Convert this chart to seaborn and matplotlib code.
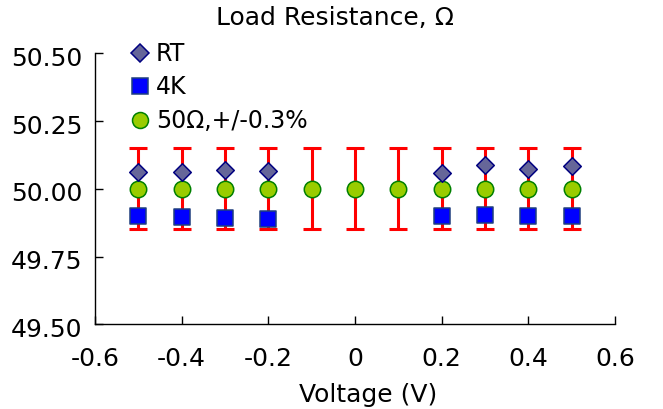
import matplotlib
matplotlib.use("Agg")
import matplotlib.pyplot as plt
import matplotlib.transforms as mtransforms
from matplotlib.lines import Line2D
import seaborn as sns
import pandas as pd

# Measured load resistance vs. bias voltage
voltage_nominal = [-0.5, -0.4, -0.3, -0.2, -0.1, 0.0, 0.1, 0.2, 0.3, 0.4, 0.5]
nominal_ohm = [50.0, 50.0, 50.0, 50.0, 50.0, 50.0, 50.0, 50.0, 50.0, 50.0, 50.0]
tolerance_ohm = 0.15  # +/-0.3 % of 50 ohm

voltage_meas = [-0.5, -0.4, -0.3, -0.2, 0.2, 0.3, 0.4, 0.5]
rt_ohm = [50.063, 50.063, 50.069, 50.065, 50.059, 50.087, 50.074, 50.083]
k4_ohm = [49.899, 49.897, 49.893, 49.887, 49.899, 49.903, 49.899, 49.899]

x_ticks = [-0.6, -0.4, -0.2, 0.0, 0.2, 0.4, 0.6]
x_tick_labels = ["-0.6", "-0.4", "-0.2", "0", "0.2", "0.4", "0.6"]
y_ticks = [49.50, 49.75, 50.00, 50.25, 50.50]

sns.set_theme(style="ticks")
plt.rcParams["font.family"] = ["DejaVu Sans"]
plt.rcParams["text.color"] = "black"

W, H = 663, 409
fig = plt.figure(figsize=(W / 100, H / 100), dpi=100)
ax = fig.add_axes([95 / W, 1 - 324.3 / H, (615 - 95) / W, (324.3 - 53.3) / H])

nom_df = pd.DataFrame({"V": voltage_nominal, "R": nominal_ohm})
meas_df = pd.DataFrame({"V": voltage_meas, "RT": rt_ohm, "4K": k4_ohm})

# tolerance band as red error bars
ax.errorbar(nom_df["V"], nom_df["R"], yerr=tolerance_ohm, fmt="none",
            ecolor="#FF0000", elinewidth=2.2, capsize=6.2, capthick=2.2, zorder=1)

sns.scatterplot(data=nom_df, x="V", y="R", marker="o", s=140, color="#99CC00",
                edgecolor="#008000", linewidth=1.1, ax=ax, zorder=3)
sns.scatterplot(data=meas_df, x="V", y="RT", marker="D", s=80, color="#666699",
                edgecolor="#000080", linewidth=1.1, ax=ax, zorder=4)
sns.scatterplot(data=meas_df, x="V", y="4K", marker="s", s=145, color="#0000FF",
                edgecolor="#1F3F7F", linewidth=1.1, ax=ax, zorder=4)

ax.set_xlim(-0.6, 0.6)
ax.set_ylim(49.5, 50.5)
ax.set_xticks(x_ticks)
ax.set_xticklabels(x_tick_labels)
ax.set_yticks(y_ticks)
ax.set_yticklabels([f"{v:.2f}" for v in y_ticks])
ax.tick_params(direction="in", length=6, width=1, color="black",
               labelsize=18, labelcolor="black")
ax.tick_params(axis="y", pad=9)
ax.tick_params(axis="x", pad=16)
# y tick labels sit slightly below their ticks
shift = mtransforms.ScaledTranslation(0, -3 / 100, fig.dpi_scale_trans)
for lbl in ax.get_yticklabels():
    lbl.set_transform(lbl.get_transform() + shift)
for side in ("top", "right"):
    ax.spines[side].set_visible(False)
for side in ("left", "bottom"):
    ax.spines[side].set_color("black")
    ax.spines[side].set_linewidth(1)

ax.set_xlabel("Voltage (V)", fontsize=18, color="black")
ax.xaxis.label.set_verticalalignment("center")
ax.xaxis.set_label_coords((368 - 95) / (615 - 95), (324.3 - 395) / (324.3 - 53.3))
ax.set_ylabel("")
fig.text(335 / W, 1 - 18 / H, "Load Resistance, Ω", fontsize=18, color="black",
         ha="center", va="center")

handles = [
    Line2D([], [], ls="none", marker="D", ms=9, mfc="#666699", mec="#000080", mew=1.1),
    Line2D([], [], ls="none", marker="s", ms=11.5, mfc="#0000FF", mec="#1F3F7F", mew=1.1),
    Line2D([], [], ls="none", marker="o", ms=11.5, mfc="#99CC00", mec="#008000", mew=1.1),
]
ax.legend(handles, ["RT", "4K", "50Ω,+/-0.3%"], loc="upper left",
          bbox_to_anchor=(131 / W, 1 - 42 / H), bbox_transform=fig.transFigure,
          frameon=False, fontsize=17, handlelength=0.8, handletextpad=0.25,
          labelspacing=0.4, borderpad=0, borderaxespad=0, labelcolor="black")

fig.savefig("out.png", dpi=100)
